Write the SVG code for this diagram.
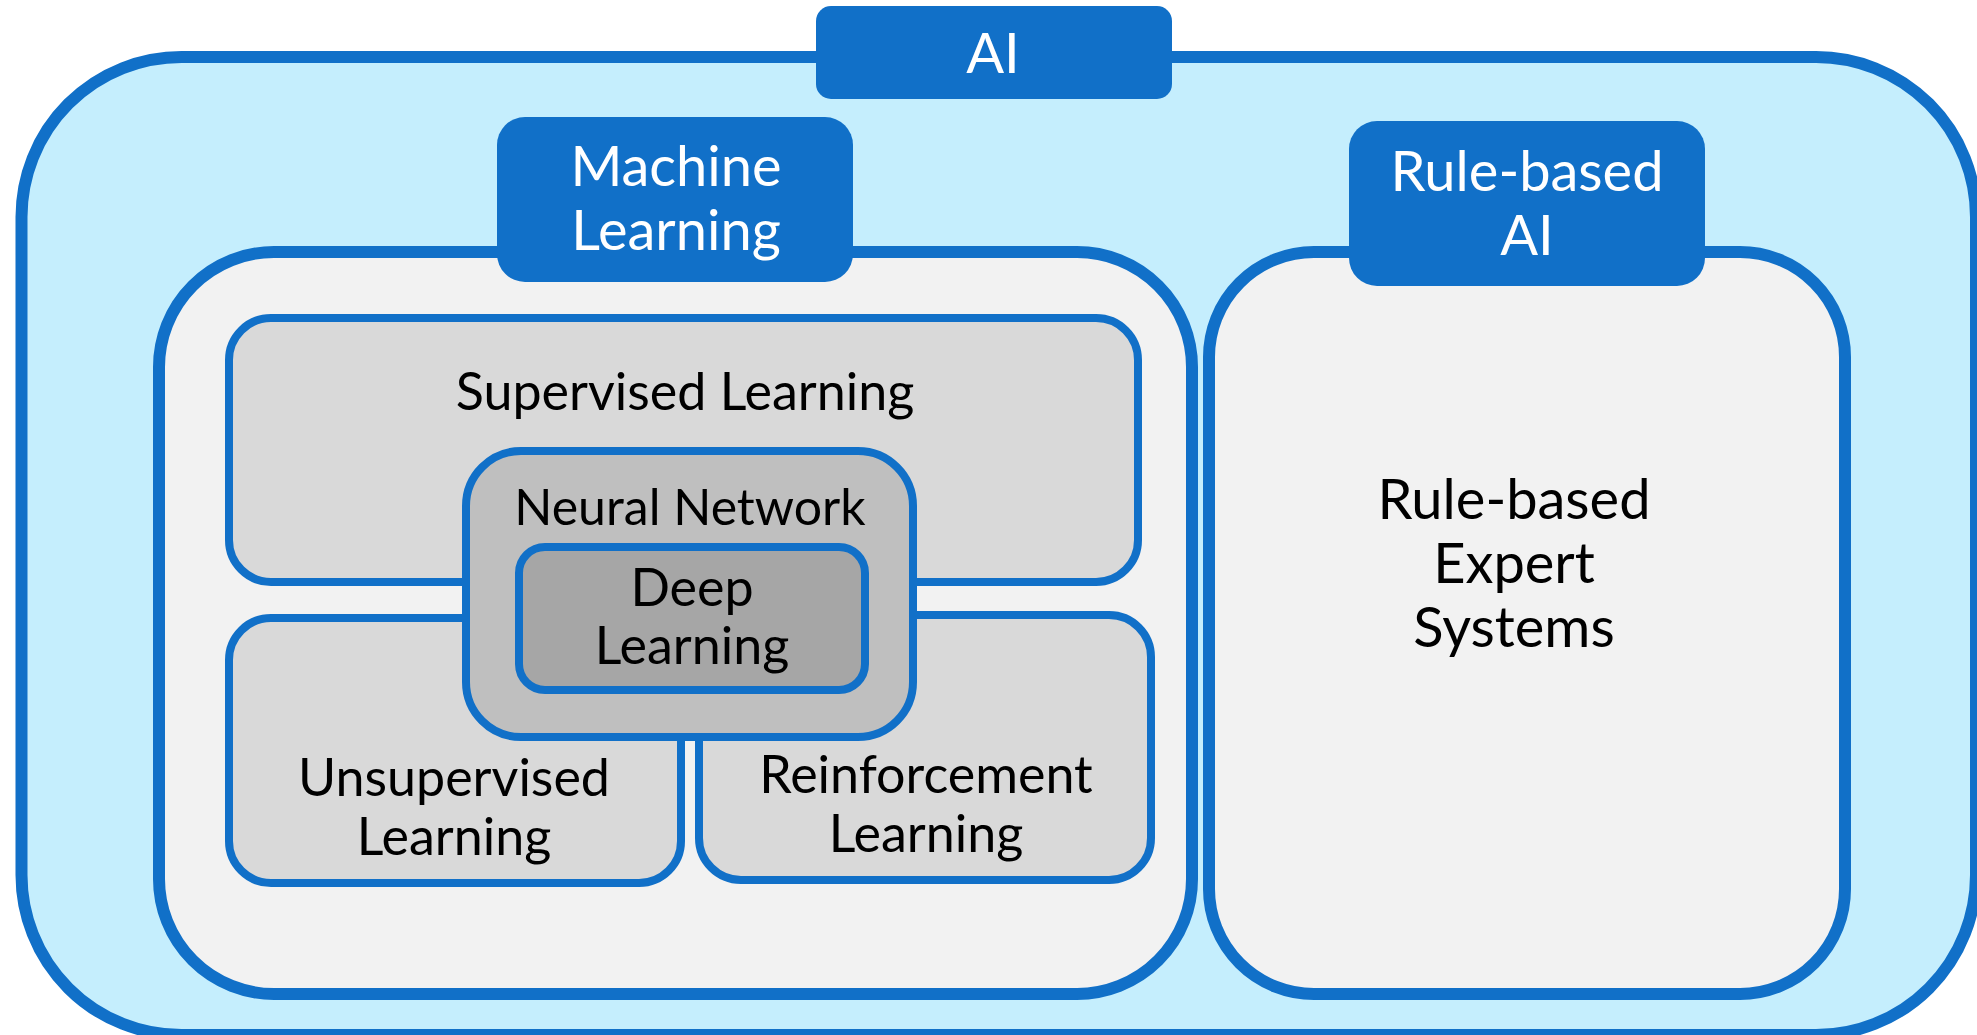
<svg xmlns="http://www.w3.org/2000/svg" width="1977" height="1035" viewBox="0 0 1977 1035">
  <style>
    .frame { stroke: #1170C8; stroke-width: 12; }
    .inner { stroke: #1170C8; stroke-width: 8; }
    .tab { fill: #1170C8; }
    .lbl { font-family: Lato, "Noto Sans", sans-serif; font-size: 52px; fill: #000000; text-anchor: middle; }
    .big { font-size: 56px; }
    .snug { font-size: 50px; }
    .tablbl { font-family: Lato, "Noto Sans", sans-serif; font-size: 56px; fill: #FFFFFF; text-anchor: middle; }
  </style>
  <rect width="1977" height="1035" fill="#FFFFFF"/>

  <!-- outer AI container -->
  <g id="ai">
    <rect class="frame" x="21.5" y="57" width="1954.5" height="978" rx="160" ry="160" fill="#C5EEFD"/>
  </g>

  <!-- Machine Learning container -->
  <g id="machine-learning">
    <rect class="frame" x="159" y="252" width="1033" height="742" rx="115" ry="115" fill="#F2F2F2"/>
  </g>

  <!-- Rule-based AI container -->
  <g id="rule-based-ai">
    <rect class="frame" x="1209" y="252" width="636" height="742" rx="105" ry="105" fill="#F2F2F2"/>
    <text class="lbl big" x="1514" y="519">Rule-based</text>
    <text class="lbl big" x="1514" y="583">Expert</text>
    <text class="lbl big" x="1514" y="647">Systems</text>
  </g>

  <!-- learning paradigms -->
  <g id="supervised">
    <rect class="inner" x="229" y="318" width="909" height="264" rx="42" ry="42" fill="#D9D9D9"/>
    <text class="lbl" x="685" y="410">Supervised Learning</text>
  </g>
  <g id="unsupervised">
    <rect class="inner" x="229" y="618" width="452" height="265" rx="42" ry="42" fill="#D9D9D9"/>
    <text class="lbl" x="454" y="796">Unsupervised</text>
    <text class="lbl" x="454" y="855">Learning</text>
  </g>
  <g id="reinforcement">
    <rect class="inner" x="699" y="615" width="452" height="265" rx="42" ry="42" fill="#D9D9D9"/>
    <text class="lbl" x="926" y="793">Reinforcement</text>
    <text class="lbl" x="926" y="852">Learning</text>
  </g>

  <!-- neural network / deep learning -->
  <g id="neural-network">
    <rect class="inner" x="466" y="451" width="447" height="286" rx="55" ry="55" fill="#BFBFBF"/>
    <text class="lbl snug" x="690" y="525">Neural Network</text>
  </g>
  <g id="deep-learning">
    <rect class="inner" x="519" y="547" width="346" height="143" rx="26" ry="26" fill="#A6A6A6"/>
    <text class="lbl" x="692" y="606">Deep</text>
    <text class="lbl" x="692" y="664">Learning</text>
  </g>

  <!-- title tabs -->
  <g id="ai-tab">
    <rect class="tab" x="816" y="6" width="356" height="93" rx="15" ry="15"/>
    <text class="tablbl" x="993" y="73">AI</text>
  </g>
  <g id="machine-learning-tab">
    <rect class="tab" x="497" y="117" width="356" height="165" rx="28" ry="28"/>
    <text class="tablbl" x="676" y="186">Machine</text>
    <text class="tablbl" x="676" y="250">Learning</text>
  </g>
  <g id="rule-based-ai-tab">
    <rect class="tab" x="1349" y="121" width="356" height="165" rx="28" ry="28"/>
    <text class="tablbl" x="1527" y="191">Rule-based</text>
    <text class="tablbl" x="1527" y="255">AI</text>
  </g>

  <!-- no connectors in this diagram -->
  <g id="connectors"/>
</svg>
